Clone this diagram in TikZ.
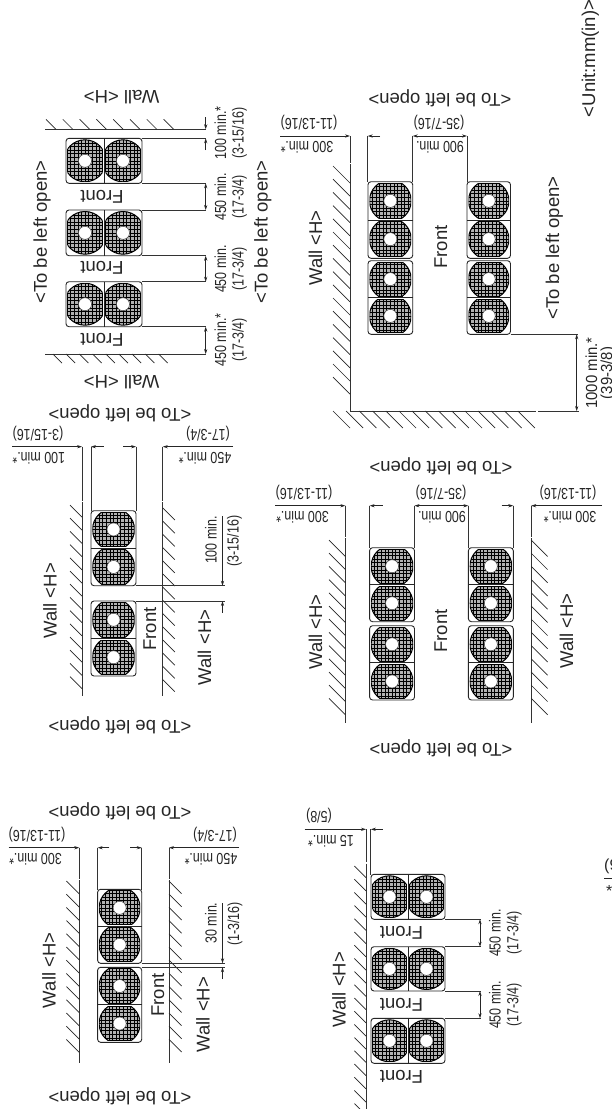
\documentclass[tikz,border=0pt]{standalone}
\usepackage{fontspec}
\setmainfont{Liberation Sans}
\usetikzlibrary{arrows.meta}
\tikzset{
  big/.style={font=\fontsize{18.5}{18.5}\selectfont,inner sep=0pt,text=black!85},
  dimh/.style={font=\fontsize{16}{16}\selectfont,inner sep=0pt,text=black!85},
  dimv/.style={font=\fontsize{16}{16}\selectfont,inner sep=0pt,text=black!85},
  wallline/.style={line width=1pt,black!80},
  hatchline/.style={line width=.7pt,black!85},
  extline/.style={line width=.8pt,black!80},
  dimline/.style={line width=.7pt,black!85,-{Stealth[length=5pt,width=3.2pt]}},
  dimboth/.style={line width=.7pt,black!85,{Stealth[length=5pt,width=3.2pt]}-{Stealth[length=5pt,width=3.2pt]}},
  casing/.style={line width=.9pt,black!85,rounded corners=3pt,fill=white},
  grill/.style={line width=.6pt,black}
}
% text helpers: baseline position x,y
\newcommand\Bv[3]{\node[big,rotate=90,anchor=base] at (#1,#2) {#3};}
\newcommand\Bu[3]{\node[big,rotate=180,anchor=base] at (#1,#2) {#3};}
\newcommand\Dv[3]{\node[dimv,rotate=90,anchor=base] at (#1,#2) {\scalebox{.78}[1]{#3}};}
\newcommand\Du[3]{\node[dimh,rotate=180,anchor=base] at (#1,#2) {\scalebox{.78}[1]{#3}};}
% fan: x0 y0 x1 y1 (cell bounds)
\newcommand\fancell[4]{%
  \pgfmathsetmacro\cxx{(#1+#3)/2}\pgfmathsetmacro\cyy{(#2+#4)/2}%
  \pgfmathsetmacro\hww{(#3-#1)/2-1.5}\pgfmathsetmacro\hhh{(#4-#2)/2-1.5}%
  \pgfmathsetmacro\rrr{max(\hww,\hhh)}%
  \pgfmathsetmacro\sxx{sqrt(max(\rrr*\rrr-\hhh*\hhh,0))}%
  \pgfmathsetmacro\syy{sqrt(max(\rrr*\rrr-\hww*\hww,0))}%
  \begin{scope}[shift={(\cxx,\cyy)}]
    \begin{scope}
      \clip (-\hww,-\hhh) rectangle (\hww,\hhh);
      \fill[gray!60] (0,0) circle (\rrr);
      \draw[line width=1pt,black] (0,0) circle (\rrr);
      \clip (0,0) circle (\rrr);
      \foreach \k in {-7,...,7}{
        \draw[grill] (\k*3.6,-30) -- (\k*3.6,30);
        \draw[grill] (-30,\k*3.6) -- (30,\k*3.6);
      }
    \end{scope}
    \draw[line width=1pt,black] (-\hww,-\syy) -- (-\hww,\syy) (\hww,-\syy) -- (\hww,\syy)
      (-\sxx,-\hhh) -- (\sxx,-\hhh) (-\sxx,\hhh) -- (\sxx,\hhh);
    \fill[white] (0,0) circle (6.5);
    \draw[line width=.5pt,black!70] (0,0) circle (6.5);
  \end{scope}}
\newcommand\blockH[4]{%
  \draw[casing] (#1,#3) rectangle (#2,#4);
  \pgfmathsetmacro\mmx{(#1+#2)/2}%
  \edef\mmxx{\mmx}%
  \fancell{#1}{#3}{\mmxx}{#4}\fancell{\mmxx}{#3}{#2}{#4}%
  \draw[line width=.9pt,black!85] (\mmxx,#3) -- (\mmxx,#4);}
\newcommand\blockV[4]{%
  \draw[casing] (#1,#2) rectangle (#3,#4);
  \pgfmathsetmacro\mmy{(#2+#4)/2}%
  \edef\mmyy{\mmy}%
  \fancell{#1}{#2}{#3}{\mmyy}\fancell{#1}{\mmyy}{#3}{#4}%
  \draw[line width=.9pt,black!85] (#1,\mmyy) -- (#3,\mmyy);}
\newcommand\HL[4]{\pgfmathsetmacro\nn{int((#3-#2-#4)/13.2)}\foreach \k in {0,...,\nn}{\draw[hatchline] (#1-#4,#2+\k*13.2) -- (#1,#2+\k*13.2+#4);}}
\newcommand\HR[4]{\pgfmathsetmacro\nn{int((#3-#2-#4)/13.2)}\foreach \k in {0,...,\nn}{\draw[hatchline] (#1,#2+\k*13.2) -- (#1+#4,#2+\k*13.2+#4);}}
\newcommand\HB[4]{\pgfmathsetmacro\nn{int((#3-#2-#4)/13.2)}\foreach \k in {0,...,\nn}{\draw[hatchline] (#2+\k*13.2,#1) -- (#2+\k*13.2+#4,#1+#4);}}
\newcommand\HA[5]{\pgfmathsetmacro\nn{int((#3-#2-#4)/#5)}\foreach \k in {0,...,\nn}{\draw[hatchline] (#2+\k*#5,#1-#4) -- (#2+\k*#5+#4,#1);}}
\begin{document}
\begin{tikzpicture}[x=1pt,y=-1pt]
\useasboundingbox (0,0) rectangle (612,1109);
\fill[white] (0,0) rectangle (612,1109);
\clip (0,0) rectangle (612,1109);

%%% Unit note
\Bv{595}{58.5}{<Unit:mm(in)>}

%%% GROUP A (top left)
\draw[wallline] (45,129.3) -- (205.7,129.3);
\HA{129.3}{46}{174}{10}{16.8}
\draw[wallline] (45,354) -- (205.7,354);
\HB{354}{53}{170}{9}
\foreach \a/\b in {138.3/183.3,210/255.7,281.7/326.7}{\blockH{66}{142}{\a}{\b}}
\foreach \yy in {138.3,183.3,210,255.7,281.7,326.7}{\draw[extline] (142,\yy) -- (205.7,\yy);}
\draw[dimline] (205.7,117) -- (205.7,129.3);
\draw[dimline] (205.7,150) -- (205.7,138.3);
\draw[dimboth] (205.7,183.3) -- (205.7,210);
\draw[dimboth] (205.7,255.7) -- (205.7,281.7);
\draw[dimboth] (205.7,326.7) -- (205.7,354);
\Bu{121.6}{90}{Wall <H>}
\Bu{121.6}{375}{Wall <H>}
\Bv{46.8}{232}{<To be left open>}
\Bv{267.5}{232}{<To be left open>}
\Bu{102}{190}{Front}\Bu{102}{261.7}{Front}\Bu{102}{333}{Front}
\Dv{226}{133}{100 min.*}\Dv{243.5}{133}{(3-15/16)}
\Dv{226}{197}{450 min.}\Dv{243.5}{197}{(17-3/4)}
\Dv{226}{269}{450 min.}\Dv{243.5}{269}{(17-3/4)}
\Dv{226}{340}{450 min.*}\Dv{243.5}{340}{(17-3/4)}

%%% GROUP B (top right)
\draw[wallline] (350,136) -- (350,162.5);
\draw[wallline] (350,164) -- (350,411) -- (536,411);
\draw[wallline] (538,411) -- (579,411);
\HL{350}{166}{400}{17}
\HB{411}{333}{540}{17}
\draw[extline] (367.7,136) -- (367.7,182);
\draw[extline] (412.7,136) -- (412.7,182);
\draw[extline] (467,136) -- (467,182);
\blockV{368}{181.7}{412.7}{258.3}\blockV{368}{260.7}{412.7}{334.3}
\blockV{467}{181.7}{510.5}{258.3}\blockV{467}{260.7}{510.5}{334.3}
\draw[extline] (510.5,334.3) -- (578,334.3);
\draw[dimline] (280,136) -- (350,136);
\draw[dimline] (380,136) -- (367.7,136);
\draw[dimboth] (412.7,136) -- (467,136);
\draw[dimboth] (576.7,334.3) -- (576.7,411);
\Du{307}{141.5}{300 min.*}\Du{309}{118.3}{(11-13/16)}
\Du{440}{141.5}{900 min.}\Du{439}{118.3}{(35-7/16)}
\Bu{440}{93}{<To be left open>}
\Bv{322}{248}{Wall <H>}
\Bv{447}{247}{Front}
\Bv{559}{248}{<To be left open>}
\node[dimv,rotate=90,anchor=base] at (597,373) {\scalebox{.93}[1]{1000 min.*}};
\node[dimv,rotate=90,anchor=base] at (612,373) {\scalebox{.93}[1]{(39-3/8)}};

%%% GROUP C (left middle)
\draw[wallline] (82,446.7) -- (82,500.5);
\draw[wallline] (82,502) -- (82,696);
\draw[wallline] (162.8,446.7) -- (162.8,500.5);
\draw[wallline] (162.8,502) -- (162.8,696);
\HL{82}{505}{696}{12}
\HR{162.8}{508}{696}{12}
\foreach \xx in {91,136}{\draw[extline] (\xx,446.7) -- (\xx,511);}
\blockV{91}{510.7}{136}{585.7}
\blockV{91}{601}{136}{676}
\draw[extline] (136,585.7) -- (224.5,585.7);
\draw[extline] (136,601) -- (224.5,601);
\draw[dimline] (222.5,516) -- (222.5,585.7);
\draw[dimline] (222.5,612.7) -- (222.5,601);
\draw[dimline] (12,446.7) -- (82,446.7);
\draw[dimline] (103.5,446.7) -- (91,446.7);
\draw[dimline] (123.3,446.7) -- (136,446.7);
\draw[dimline] (233,446.7) -- (162.8,446.7);
\Du{38.8}{452}{100 min.*}\Du{38}{429.5}{(3-15/16)}
\Du{205}{452}{450 min.*}\Du{208}{429.5}{(17-3/4)}
\Bu{120}{408}{<To be left open>}
\Bu{120}{720}{<To be left open>}
\Bv{56.6}{600.7}{Wall <H>}
\Bv{211}{647.5}{Wall <H>}
\Bv{156}{629}{Front}
\Dv{216.5}{540}{100 min.}\Dv{238.5}{541}{(3-15/16)}

%%% GROUP D (right middle)
\draw[wallline] (345.4,505.7) -- (345.4,536.5);
\draw[wallline] (345.4,538) -- (345.4,723);
\draw[wallline] (531.2,505.7) -- (531.2,536.5);
\draw[wallline] (531.2,538) -- (531.2,723);
\HL{345.4}{540}{723}{16.4}
\HR{531.2}{540}{723}{16.4}
\foreach \xx in {369.6,414.5,468.4,513.3}{\draw[extline] (\xx,505.7) -- (\xx,548);}
\blockV{369.6}{547.7}{414.5}{621.7}\blockV{369.6}{625.7}{414.5}{700}
\blockV{468.4}{547.7}{513.3}{621.7}\blockV{468.4}{625.7}{513.3}{700}
\draw[dimline] (275,505.7) -- (345.4,505.7);
\draw[dimline] (382.5,505.7) -- (369.6,505.7);
\draw[dimboth] (414.5,505.7) -- (468.4,505.7);
\draw[dimline] (501.6,505.7) -- (513.3,505.7);
\draw[dimline] (602,505.7) -- (531.2,505.7);
\Du{302.5}{511.7}{300 min.*}\Du{304}{488}{(11-13/16)}
\Du{442}{511.7}{900 min.}\Du{441}{488}{(35-7/16)}
\Du{570}{511.7}{300 min.*}\Du{568}{488}{(11-13/16)}
\Bu{441}{461}{<To be left open>}
\Bu{441}{743}{<To be left open>}
\Bv{322}{632}{Wall <H>}
\Bv{573}{631}{Wall <H>}
\Bv{447}{631}{Front}

%%% GROUP E (bottom left)
\draw[wallline] (79.3,847.7) -- (79.3,878.5);
\draw[wallline] (79.3,880) -- (79.3,1063);
\draw[wallline] (169,847.7) -- (169,878.5);
\draw[wallline] (169,880) -- (169,1063);
\HL{79.3}{881}{1063}{12.9}
\HR{169}{881}{1063}{12.6}
\foreach \xx in {97.6,141.7}{\draw[extline] (\xx,847.7) -- (\xx,890);}
\blockV{97.6}{889.3}{141.7}{963.3}
\blockV{97.6}{967.3}{141.7}{1042.3}
\draw[extline] (141.7,963.3) -- (224.5,963.3);
\draw[extline] (141.7,967.3) -- (224.5,967.3);
\draw[dimline] (222.5,903) -- (222.5,963.3);
\draw[dimline] (222.5,979) -- (222.5,967.3);
\draw[dimline] (8.6,847.7) -- (79.3,847.7);
\draw[dimline] (109.3,847.7) -- (97.6,847.7);
\draw[dimline] (130,847.7) -- (141.7,847.7);
\draw[dimline] (239,847.7) -- (169,847.7);
\Du{35.5}{853.3}{300 min.*}\Du{37}{830}{(11-13/16)}
\Du{211}{853.3}{450 min.*}\Du{215}{830}{(17-3/4)}
\Bu{120}{806}{<To be left open>}
\Bu{120}{1091}{<To be left open>}
\Bv{55.5}{970.3}{Wall <H>}
\Bv{209.6}{1014.5}{Wall <H>}
\Bv{164}{995}{Front}
\Dv{216.6}{923}{30 min.}\Dv{239}{924}{(1-3/16)}

%%% GROUP F (bottom right)
\draw[wallline] (366,829.3) -- (366,862);
\draw[wallline] (366,863.5) -- (366,1109);
\HL{366}{866}{1125}{11.6}
\draw[extline] (370.8,829.3) -- (370.8,875);
\foreach \a/\b in {874.3/919.3,946.7/991,1018.3/1063.3}{\blockH{371}{445}{\a}{\b}}
\foreach \yy in {919.3,946.7,991,1018.3}{\draw[extline] (445,\yy) -- (481,\yy);}
\draw[dimboth] (480,919.3) -- (480,946.7);
\draw[dimboth] (480,991) -- (480,1018.3);
\draw[dimline] (304.5,829.3) -- (366,829.3);
\draw[dimline] (382.5,829.3) -- (370.8,829.3);
\Du{331}{835}{15 min.*}\Du{319}{811.6}{(5/8)}
\Dv{500.7}{933}{450 min.}\Dv{518.3}{933}{(17-3/4)}
\Dv{500.7}{1005}{450 min.}\Dv{518.3}{1005}{(17-3/4)}
\Bv{345.7}{989.5}{Wall <H>}
\Bu{401.6}{926.7}{Front}\Bu{401.6}{998.3}{Front}\Bu{401.6}{1070.7}{Front}

%%% clipped fragment at right edge
\node[dimh,anchor=base west] at (604,870) {(9};
\draw[hatchline] (604,878) -- (612,878);
\node[dimh,anchor=base west] at (606,896) {*};
\end{tikzpicture}
\end{document}
